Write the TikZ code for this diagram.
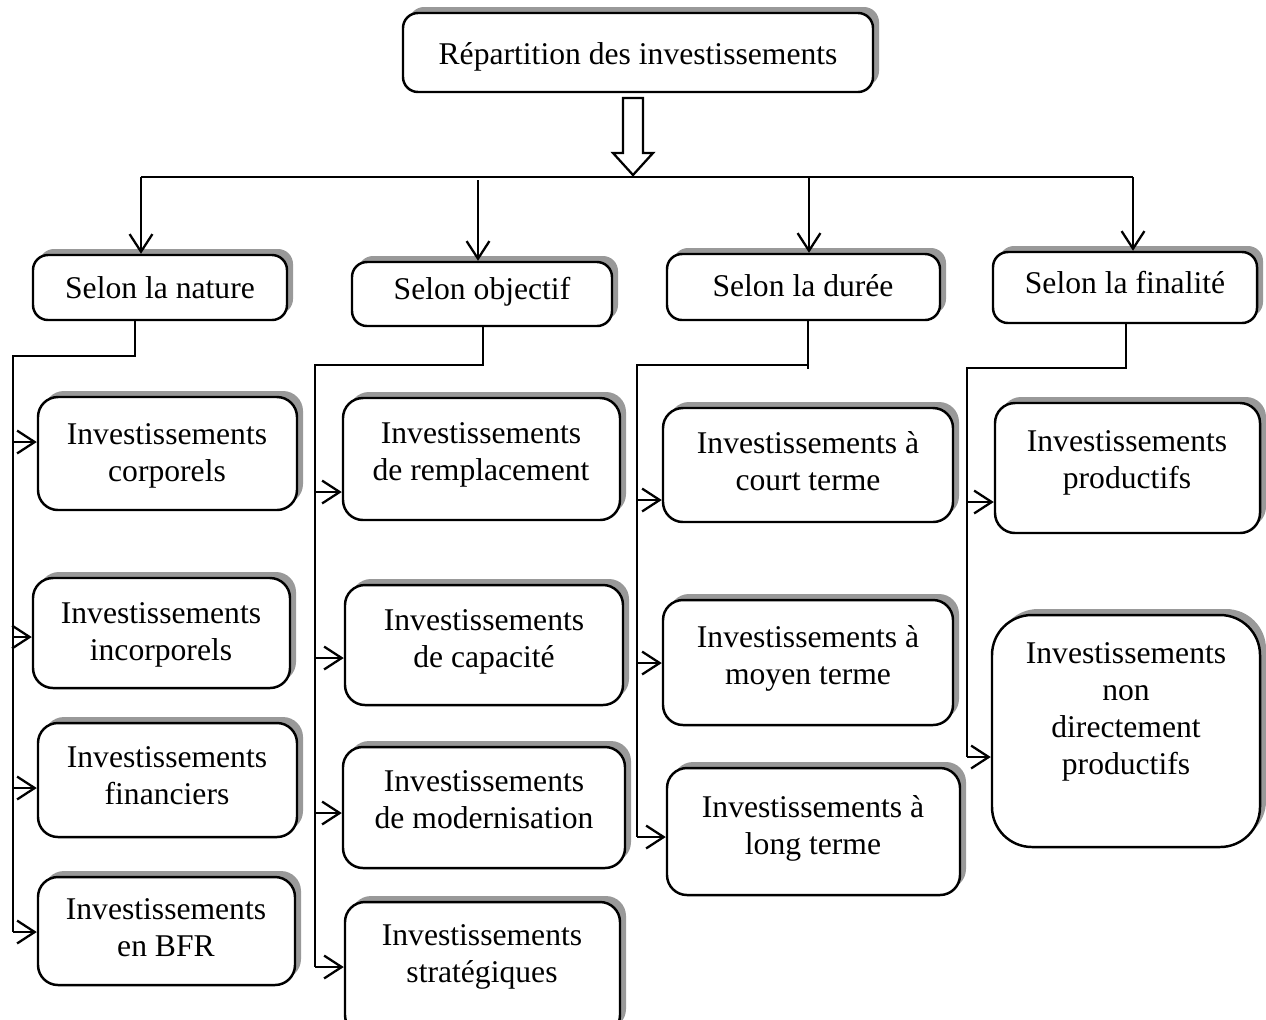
\documentclass[tikz,border=0pt]{standalone}
\usepackage{fontspec}
\setmainfont{Liberation Serif}
\usetikzlibrary{arrows.meta,shadows,fit}
\begin{document}
\begin{tikzpicture}[x=0.02cm,y=-0.02cm,
  box/.style={draw, line width=1.4pt, rounded corners=#1, fill=white, inner sep=0pt,
    drop shadow={shadow xshift=0.12cm, shadow yshift=0.12cm, opacity=1, fill=black!40}},
  box/.default=0.3cm,
  txt/.style={font=\fontsize{18}{21}\selectfont, align=center, inner sep=0pt},
  conn/.style={line width=1.3pt},
  arr/.style={conn, -{Straight Barb[length=10pt,width=13pt]}},
  hollow/.style={line width=1.3pt, fill=white, line join=miter}
]
\clip (0,0) rectangle (1266,1019);

% boxes
\node[box] (top) [fit={(403,13)(873,92)}] {};
\node[box] (n) [fit={(33,255)(287,320)}] {};
\node[box] (o) [fit={(352,262)(612,326)}] {};
\node[box] (d) [fit={(667,254)(940,320)}] {};
\node[box] (f) [fit={(993,252)(1257,323)}] {};

\node[box=0.4cm] (c1a) [fit={(38,397)(297,510)}] {};
\node[box=0.4cm] (c1b) [fit={(33,578)(290,688)}] {};
\node[box=0.4cm] (c1c) [fit={(38,723)(297,837)}] {};
\node[box=0.4cm] (c1d) [fit={(38,877)(295,985)}] {};

\node[box=0.4cm] (c2a) [fit={(343,398)(620,520)}] {};
\node[box=0.4cm] (c2b) [fit={(345,585)(623,705)}] {};
\node[box=0.4cm] (c2c) [fit={(343,747)(625,868)}] {};
\node[box=0.4cm] (c2d) [fit={(345,902)(620,1035)}] {};

\node[box=0.4cm] (c3a) [fit={(663,408)(953,522)}] {};
\node[box=0.4cm] (c3b) [fit={(663,600)(953,725)}] {};
\node[box=0.4cm] (c3c) [fit={(667,768)(960,895)}] {};

\node[box=0.4cm] (c4a) [fit={(995,403)(1260,533)}] {};
\node[box=0.8cm] (c4b) [fit={(992,615)(1260,847)}] {};

% texts
\node[txt] (ttop) at (638,57) {Répartition des investissements};
\node[txt] (tn) at (160,288) {Selon la nature};
\node[txt] (to) at (482,292) {Selon objectif};
\node[txt] (td) at (803,286) {Selon la durée};
\node[txt] (tf) at (1125,283) {Selon la finalité};

\node[txt] (t1a) at (167,456) {Investissements\\corporels};
\node[txt] (t1b) at (161,635) {Investissements\\incorporels};
\node[txt] (t1c) at (167,776) {Investissements\\financiers};
\node[txt] (t1d) at (166,928) {Investissements\\en BFR};

\node[txt] (t2a) at (481,455) {Investissements\\de remplacement};
\node[txt] (t2b) at (484,642) {Investissements\\de capacité};
\node[txt] (t2c) at (484,800) {Investissements\\de modernisation};
\node[txt] (t2d) at (482,957) {Investissements\\stratégiques};

\node[txt] (t3a) at (808,461) {Investissements à\\court terme};
\node[txt] (t3b) at (808,658) {Investissements à\\moyen terme};
\node[txt] (t3c) at (813,828) {Investissements à\\long terme};

\node[txt] (t4a) at (1127,463) {Investissements\\productifs};
\node[txt] (t4b) at (1126,712) {Investissements\\non\\directement\\productifs};

% hollow arrow
\draw[hollow] (623,98) -- (643,98) -- (643,153) -- (653,153) -- (633,175)
  -- (613,153) -- (623,153) -- cycle;

% top distribution
\coordinate (hl) at (141,177);
\coordinate (hr) at (1133,177);
\draw[conn] (hl) -- (hr);
\draw[arr] (hl) -- (hl |- n.north);
\draw[arr] (478,180) -- (478,180 |- o.north);
\draw[arr] (809,177) -- (809,177 |- d.north);
\draw[arr] (hr) -- (hr |- f.north);

% column 1
\draw[conn] (135,0 |- n.south) -- (135,356) -- (13,356) -- (13,932);
\draw[arr] (13,442) -- (c1a.west |- 13,442);
\draw[arr] (13,637) -- (c1b.west |- 13,637);
\draw[arr] (13,788) -- (c1c.west |- 13,788);
\draw[arr] (13,932) -- (c1d.west |- 13,932);

% column 2
\draw[conn] (483,0 |- o.south) -- (483,365) -- (315,365) -- (315,967);
\draw[arr] (315,492) -- (c2a.west |- 315,492);
\draw[arr] (315,658) -- (c2b.west |- 315,658);
\draw[arr] (315,813) -- (c2c.west |- 315,813);
\draw[arr] (315,967) -- (c2d.west |- 315,967);

% column 3
\draw[conn] (808,0 |- d.south) -- (808,369);
\draw[conn] (808,365) -- (637,365) -- (637,837);
\draw[arr] (637,500) -- (c3a.west |- 637,500);
\draw[arr] (637,663) -- (c3b.west |- 637,663);
\draw[arr] (637,837) -- (c3c.west |- 637,837);

% column 4
\draw[conn] (1126,0 |- f.south) -- (1126,368) -- (967,368) -- (967,757);
\draw[arr] (967,502) -- (c4a.west |- 967,502);
\draw[arr] (967,757) -- (c4b.west |- 967,757);
\end{tikzpicture}
\end{document}
